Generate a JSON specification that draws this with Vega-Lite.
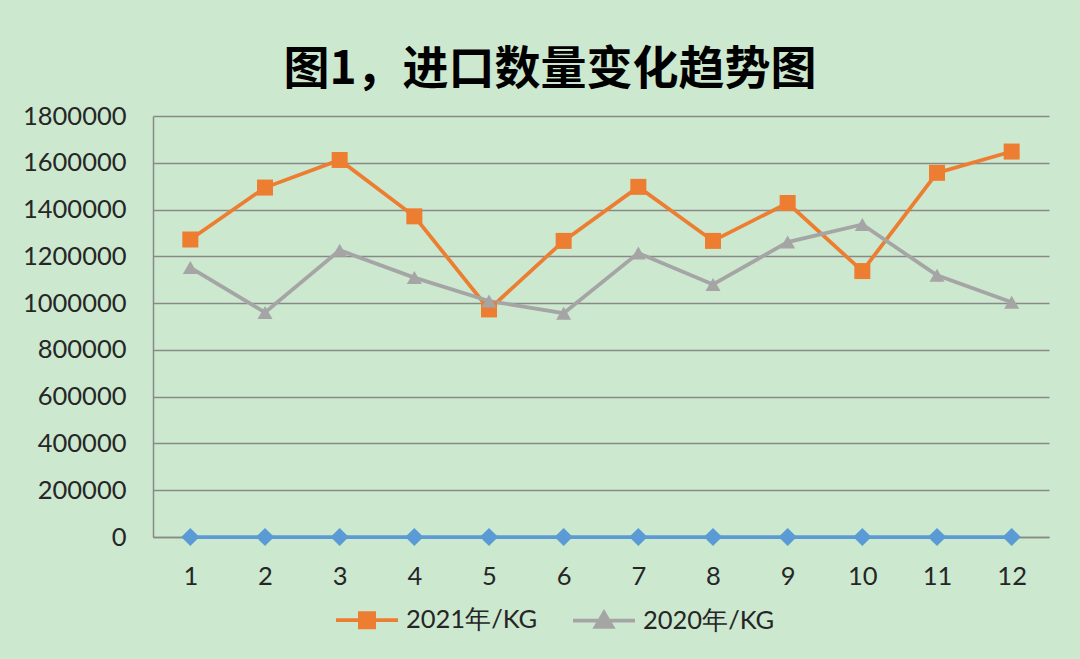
{
  "$schema": "https://vega.github.io/schema/vega-lite/v6.json",
  "autosize": {"type": "none"},
  "width": 896,
  "height": 421,
  "padding": {"left": 153, "top": 116, "right": 31, "bottom": 122},
  "background": "#cce8cf",
  "title": {
    "text": "图1，进口数量变化趋势图",
    "font": "Noto Sans CJK SC",
    "fontSize": 46,
    "fontWeight": "bold",
    "color": "#000000",
    "anchor": "middle",
    "frame": "group",
    "dx": -51,
    "offset": 10
  },
  "config": {
    "view": {"stroke": null},
    "axis": {"labelFont": "Lato", "labelFontSize": 25.5, "labelColor": "#262626", "title": null},
    "legend": {"labelFont": "Lato", "labelFontSize": 25.5, "labelColor": "#262626"}
  },
  "data": {
    "values": [
      {"month": 1, "series": "2021年/KG", "value": 1272000},
      {"month": 2, "series": "2021年/KG", "value": 1494000},
      {"month": 3, "series": "2021年/KG", "value": 1612000},
      {"month": 4, "series": "2021年/KG", "value": 1371000},
      {"month": 5, "series": "2021年/KG", "value": 973000},
      {"month": 6, "series": "2021年/KG", "value": 1266000},
      {"month": 7, "series": "2021年/KG", "value": 1497000},
      {"month": 8, "series": "2021年/KG", "value": 1266000},
      {"month": 9, "series": "2021年/KG", "value": 1428000},
      {"month": 10, "series": "2021年/KG", "value": 1137000},
      {"month": 11, "series": "2021年/KG", "value": 1557000},
      {"month": 12, "series": "2021年/KG", "value": 1648000},
      {"month": 1, "series": "2020年/KG", "value": 1152000},
      {"month": 2, "series": "2020年/KG", "value": 960000},
      {"month": 3, "series": "2020年/KG", "value": 1226000},
      {"month": 4, "series": "2020年/KG", "value": 1109000},
      {"month": 5, "series": "2020年/KG", "value": 1009000},
      {"month": 6, "series": "2020年/KG", "value": 957000},
      {"month": 7, "series": "2020年/KG", "value": 1214000},
      {"month": 8, "series": "2020年/KG", "value": 1080000},
      {"month": 9, "series": "2020年/KG", "value": 1261000},
      {"month": 10, "series": "2020年/KG", "value": 1336000},
      {"month": 11, "series": "2020年/KG", "value": 1119000},
      {"month": 12, "series": "2020年/KG", "value": 1004000},
      {"month": 1, "series": "系列3", "value": 0},
      {"month": 2, "series": "系列3", "value": 0},
      {"month": 3, "series": "系列3", "value": 0},
      {"month": 4, "series": "系列3", "value": 0},
      {"month": 5, "series": "系列3", "value": 0},
      {"month": 6, "series": "系列3", "value": 0},
      {"month": 7, "series": "系列3", "value": 0},
      {"month": 8, "series": "系列3", "value": 0},
      {"month": 9, "series": "系列3", "value": 0},
      {"month": 10, "series": "系列3", "value": 0},
      {"month": 11, "series": "系列3", "value": 0},
      {"month": 12, "series": "系列3", "value": 0}
    ]
  },
  "encoding": {
    "x": {
      "field": "month",
      "type": "ordinal",
      "scale": {"type": "point", "padding": 0.5},
      "axis": {"labelAngle": 0, "ticks": false, "tickSize": 0, "labelPadding": 27, "domain": true, "domainColor": "#898989", "domainWidth": 1.5, "grid": false}
    },
    "y": {
      "field": "value",
      "type": "quantitative",
      "scale": {"domain": [0, 1800000], "nice": false},
      "axis": {"values": [0, 200000, 400000, 600000, 800000, 1000000, 1200000, 1400000, 1600000, 1800000], "format": "d", "ticks": false, "tickSize": 0, "labelPadding": 27, "domain": true, "domainColor": "#898989", "domainWidth": 1.5, "grid": true, "gridColor": "#898989", "gridWidth": 1.5}
    }
  },
  "layer": [
    {
      "mark": {"type": "line", "strokeWidth": 3.75},
      "encoding": {
        "color": {
          "field": "series",
          "type": "nominal",
          "scale": {"domain": ["2021年/KG", "2020年/KG", "系列3"], "range": ["#ED7D31", "#A5A5A5", "#5B9BD5"]},
          "legend": {
            "values": ["2021年/KG", "2020年/KG"],
            "title": null,
            "orient": "none",
            "direction": "horizontal",
            "legendX": 181,
            "legendY": 471,
            "padding": 0,
            "symbolSize": 3844,
            "symbolType": "M-1,0H1",
            "labelOffset": 6,
            "columnPadding": 27,
            "encode": {
              "symbols": {
                "update": {
                  "shape": {"signal": "datum.value === '2021年/KG' ? 'M-1,0H1M-0.23,-0.23H0.23V0.23H-0.23Z' : 'M-1,0H1M0,-0.26L0.27,0.2H-0.27Z'"},
                  "fill": {"signal": "datum.value === '2021年/KG' ? '#ED7D31' : '#A5A5A5'"},
                  "stroke": {"signal": "datum.value === '2021年/KG' ? '#ED7D31' : '#A5A5A5'"},
                  "strokeWidth": {"value": 3.75},
                  "opacity": {"value": 1}
                }
              }
            }
          }
        }
      }
    },
    {
      "transform": [{"filter": "datum.series === '2021年/KG'"}],
      "mark": {"type": "point", "filled": true, "opacity": 1, "shape": "square", "size": 256, "color": "#ED7D31"}
    },
    {
      "transform": [{"filter": "datum.series === '2020年/KG'"}],
      "mark": {"type": "point", "filled": true, "opacity": 1, "shape": "triangle-up", "size": 225, "color": "#A5A5A5"}
    },
    {
      "transform": [{"filter": "datum.series === '系列3'"}],
      "mark": {"type": "point", "filled": true, "opacity": 1, "shape": "diamond", "size": 330, "color": "#5B9BD5"}
    }
  ]
}
